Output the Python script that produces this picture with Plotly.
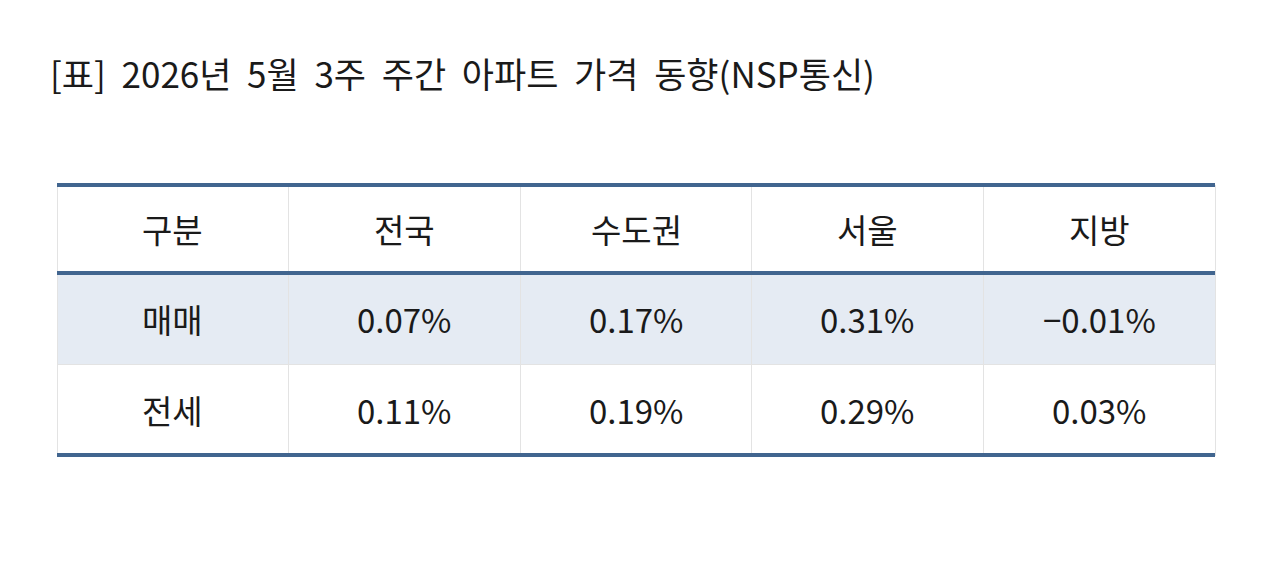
import plotly.graph_objects as go

title = "[표] 2026년 5월 3주 주간 아파트 가격 동향(NSP통신)"
headers = ["구분", "전국", "수도권", "서울", "지방"]
row_labels = ["매매", "전세"]
sale = ["0.07%", "0.17%", "0.31%", "−0.01%"]
jeonse = ["0.11%", "0.19%", "0.29%", "0.03%"]

W, H = 1280, 584
OFF = 8  # page body margin
font = "Noto Sans CJK KR"
rows = [headers, [row_labels[0]] + sale, [row_labels[1]] + jeonse]

x0, x1 = 57 - OFF, 1215 - OFF
ytop = 185 - OFF
row_h = [88, 91, 91]

fig = go.Figure(go.Table(
    domain=dict(x=[x0/W, x1/W], y=[0, 1-ytop/H]),
    columnwidth=[1]*5,
    header=dict(values=[""]*5, height=row_h[0], fill_color="white",
                line=dict(color="#e3e3e3", width=1)),
    cells=dict(values=[["", ""]]*5, height=row_h[1],
               fill_color=[["#e5ebf3", "white"]]*5,
               line=dict(color="#e3e3e3", width=1)),
))

cw = (x1 - x0) / 5
y = ytop
for r, vals in enumerate(rows):
    yc = y + row_h[r] / 2
    for c, v in enumerate(vals):
        fig.add_annotation(text=v, xref="paper", yref="paper",
                           x=(x0 + cw*(c+0.5))/W, y=1-yc/H,
                           xanchor="center", yanchor="middle", showarrow=False,
                           font=dict(family=font, size=33, color="#1a1a1a"))
    y += row_h[r]

blue = "#41658f"
for yl in [185, 273, 455]:
    yy = yl - OFF
    fig.add_shape(type="line", xref="paper", yref="paper",
                  x0=x0/W, x1=x1/W, y0=1-yy/H, y1=1-yy/H,
                  line=dict(color=blue, width=4))
fig.add_annotation(text=title.replace(" ", "\u00a0\u00a0"), xref="paper", yref="paper",
                   x=(48-OFF)/W, y=1-(73-OFF)/H,
                   xanchor="left", yanchor="middle", showarrow=False,
                   font=dict(family=font, size=35, color="#1a1a1a"))
fig.update_layout(width=W, height=H, margin=dict(l=0, r=0, t=0, b=0),
                  paper_bgcolor="white", plot_bgcolor="white")
fig.write_html("out.html")
